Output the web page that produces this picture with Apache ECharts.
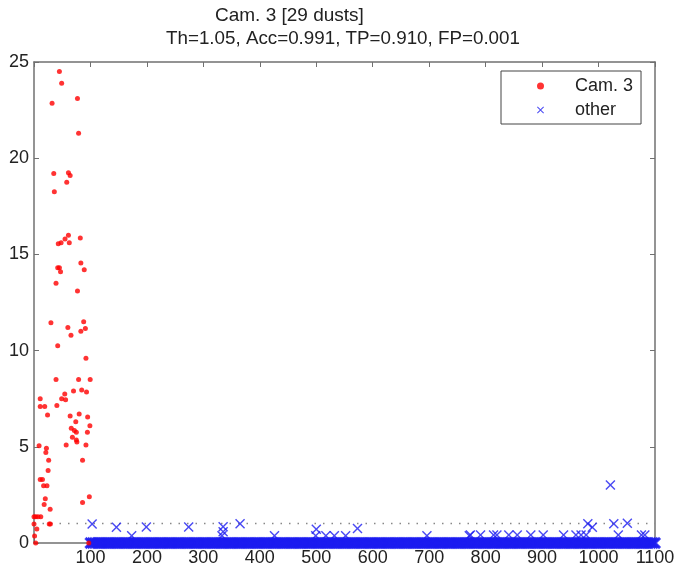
<!DOCTYPE html>
<html>
<head>
<meta charset="utf-8">
<title>Cam. 3</title>
<script src="https://cdn.jsdelivr.net/npm/echarts@6/dist/echarts.min.js"></script>
<style>
  html, body { margin: 0; padding: 0; background: #fff; }
  #main { width: 678px; height: 569px; }
</style>
</head>
<body>
<div id="main"></div>
<script>
// Cam. 3 points (index, score)
var camX = [45, 49, 32, 77, 79, 35, 61, 64, 58, 36, 61, 82, 55, 62.5, 48, 43, 83, 89, 42, 45, 47, 39, 77,
  30, 88, 91, 60, 65.5, 83, 42, 92, 39, 79, 99.5, 11, 49, 56, 54.5, 70, 84.5, 93, 11, 19, 40.5,
  24, 64, 80, 95, 74, 99, 66, 71.5, 75, 94.6, 68, 75, 76, 57, 92, 9, 22, 21, 26, 86, 25,
  11, 15, 17, 23, 20, 98, 86, 18, 28.6, 0, 3, 7, 12, 27, 29, 0, 5, 1, 3, 97];
var camY = [24.5, 23.9, 22.85, 23.1, 21.3, 19.2, 19.25, 19.1, 18.75, 18.25, 16.0, 15.85, 15.8, 15.6, 15.6, 15.55, 14.55, 14.2, 14.3, 14.3, 14.1, 13.5, 13.1,
  11.45, 11.5, 11.15, 11.2, 10.8, 11.0, 10.25, 9.6, 8.5, 8.5, 8.5, 7.5, 7.5, 7.45, 7.75, 7.9, 7.95, 7.85, 7.1, 7.1, 7.15,
  6.65, 6.6, 6.7, 6.55, 6.3, 6.1, 5.97, 5.85, 5.75, 5.75, 5.5, 5.35, 5.25, 5.1, 5.1, 5.05, 4.93, 4.7, 4.3, 4.3, 3.77,
  3.3, 3.3, 2.98, 2.97, 2.3, 2.4, 2.1, 2.0, 1.75, 1.37, 1.37, 1.37, 1.37, 0.99, 0.99, 0.99, 0.73, 0.36, 0, 0];

// other points that stand above the zero band
var otherX = [103, 146, 173, 199, 274, 335, 335, 333, 365, 426, 500, 499, 517, 532, 552, 573, 696, 771,
  773, 791, 814, 820, 841, 856, 880, 902, 938, 960, 969, 978, 981, 989, 1021, 1027, 1051, 1035, 1076, 1082];
var otherY = [0.99, 0.82, 0.38, 0.83, 0.83, 0.85, 0.59, 0.38, 1.0, 0.38, 0.71, 0.38, 0.38, 0.38, 0.38, 0.75, 0.38, 0.38,
  0.42, 0.42, 0.42, 0.42, 0.42, 0.42, 0.42, 0.42, 0.42, 0.42, 0.42, 0.42, 1.0, 0.82, 3.02, 1.0, 1.03, 0.42, 0.42, 0.42];

// other points sitting at zero (dense band)
var bandX = [
  100, 104, 108, 112, 116, 120, 124, 128, 132, 136, 140, 144, 148, 152, 156, 160, 164, 168, 172, 176, 180, 184, 188, 192, 196,
  200, 204, 208, 212, 216, 220, 224, 228, 232, 236, 240, 244, 248, 252, 256, 260, 264, 268, 272, 276, 280, 284, 288, 292, 296,
  300, 304, 308, 312, 316, 320, 324, 328, 332, 336, 340, 344, 348, 352, 356, 360, 364, 368, 372, 376, 380, 384, 388, 392, 396,
  400, 404, 408, 412, 416, 420, 424, 428, 432, 436, 440, 444, 448, 452, 456, 460, 464, 468, 472, 476, 480, 484, 488, 492, 496,
  500, 504, 508, 512, 516, 520, 524, 528, 532, 536, 540, 544, 548, 552, 556, 560, 564, 568, 572, 576, 580, 584, 588, 592, 596,
  600, 604, 608, 612, 616, 620, 624, 628, 632, 636, 640, 644, 648, 652, 656, 660, 664, 668, 672, 676, 680, 684, 688, 692, 696,
  700, 704, 708, 712, 716, 720, 724, 728, 732, 736, 740, 744, 748, 752, 756, 760, 764, 768, 772, 776, 780, 784, 788, 792, 796,
  800, 804, 808, 812, 816, 820, 824, 828, 832, 836, 840, 844, 848, 852, 856, 860, 864, 868, 872, 876, 880, 884, 888, 892, 896,
  900, 904, 908, 912, 916, 920, 924, 928, 932, 936, 940, 944, 948, 952, 956, 960, 964, 968, 972, 976, 980, 984, 988, 992, 996,
  1000, 1004, 1008, 1012, 1016, 1020, 1024, 1028, 1032, 1036, 1040, 1044, 1048, 1052, 1056, 1060, 1064, 1068, 1072, 1076, 1080, 1084, 1088, 1092, 1096,
  1100];

var threshold = 1.05;

var camData = camX.map(function (x, i) { return [x, camY[i]]; });
var otherData = otherX.map(function (x, i) { return [x, otherY[i]]; });
var bandData = bandX.map(function (x) { return [x, 0]; });

// X-shaped marker
var crossPath = 'path://M0,1L1,0L5,4L9,0L10,1L6,5L10,9L9,10L5,6L1,10L0,9L4,5Z';
var blue = '#1c1cf0';
var axisGray = '#707070';
var fontFam = '"Liberation Sans", Arial, sans-serif';

var chart = echarts.init(document.getElementById('main'));
var option = {
  backgroundColor: '#fff',
  animation: false,
  title: [{
    text: 'Cam. 3 [29 dusts]',
    left: 215, top: 6, padding: 0,
    textStyle: { fontFamily: fontFam, fontSize: 19, fontWeight: 'normal', color: '#222' }
  }, {
    text: 'Th=1.05, Acc=0.991, TP=0.910, FP=0.001',
    left: 166, top: 29, padding: 0,
    textStyle: { fontFamily: fontFam, fontSize: 18.8, fontWeight: 'normal', color: '#222' }
  }],
  legend: {
    orient: 'vertical',
    left: 501, top: 71,
    padding: [5, 8, 4, 36],
    itemWidth: 7, itemHeight: 7,
    itemGap: 4,
    borderColor: '#444', borderWidth: 1,
    backgroundColor: '#fff',
    data: ['Cam. 3', 'other'],
    textStyle: { fontFamily: fontFam, fontSize: 18, color: '#222', lineHeight: 20, padding: [0, 0, 0, 26] }
  },
  grid: { left: 34, right: 23, top: 62, bottom: 26, containLabel: false },
  xAxis: [{
    type: 'value', min: 0, max: 1100, interval: 100, position: 'bottom',
    splitLine: { show: false },
    axisLine: { show: true, onZero: false, lineStyle: { color: axisGray, width: 1.5 } },
    axisTick: { show: true, inside: true, length: 5, lineStyle: { color: axisGray } },
    axisLabel: {
      margin: 6, fontFamily: fontFam, fontSize: 18, color: '#222',
      formatter: function (v) { return v === 0 ? '' : v; }
    }
  }, {
    type: 'value', min: 0, max: 1100, interval: 100, position: 'top',
    splitLine: { show: false },
    axisLine: { show: true, onZero: false, lineStyle: { color: axisGray, width: 1.5 } },
    axisTick: { show: true, inside: true, length: 5, lineStyle: { color: axisGray } },
    axisLabel: { show: false }
  }],
  yAxis: [{
    type: 'value', min: 0, max: 25, interval: 5, position: 'left',
    splitLine: { show: false },
    axisLine: { show: true, onZero: false, lineStyle: { color: axisGray, width: 1.5 } },
    axisTick: { show: true, inside: true, length: 5, lineStyle: { color: axisGray } },
    axisLabel: { margin: 5, fontFamily: fontFam, fontSize: 18, color: '#222' }
  }, {
    type: 'value', min: 0, max: 25, interval: 5, position: 'right',
    splitLine: { show: false },
    axisLine: { show: true, onZero: false, lineStyle: { color: axisGray, width: 1.5 } },
    axisTick: { show: true, inside: true, length: 5, lineStyle: { color: axisGray } },
    axisLabel: { show: false }
  }],
  series: [{
    name: 'other',
    type: 'scatter',
    symbol: crossPath,
    symbolSize: 10,
    itemStyle: { color: blue },
    data: otherData,
    z: 2,
    markLine: {
      silent: true,
      symbol: ['none', 'none'],
      label: { show: false },
      lineStyle: { color: '#888', width: 1.3, type: [1.5, 7] },
      data: [{ yAxis: threshold }],
      z: 1
    }
  }, {
    name: 'other',
    type: 'scatter',
    symbol: crossPath,
    symbolSize: 10,
    itemStyle: { color: blue, borderColor: blue, borderWidth: 1.6 },
    data: bandData,
    z: 2
  }, {
    name: 'Cam. 3',
    type: 'scatter',
    symbol: 'circle',
    symbolSize: 5,
    itemStyle: { color: '#ff0000' },
    data: camData,
    z: 3
  }]
};
chart.setOption(option);
window.addEventListener('resize', function () {
  chart.resize();
});
</script>
</body>
</html>
